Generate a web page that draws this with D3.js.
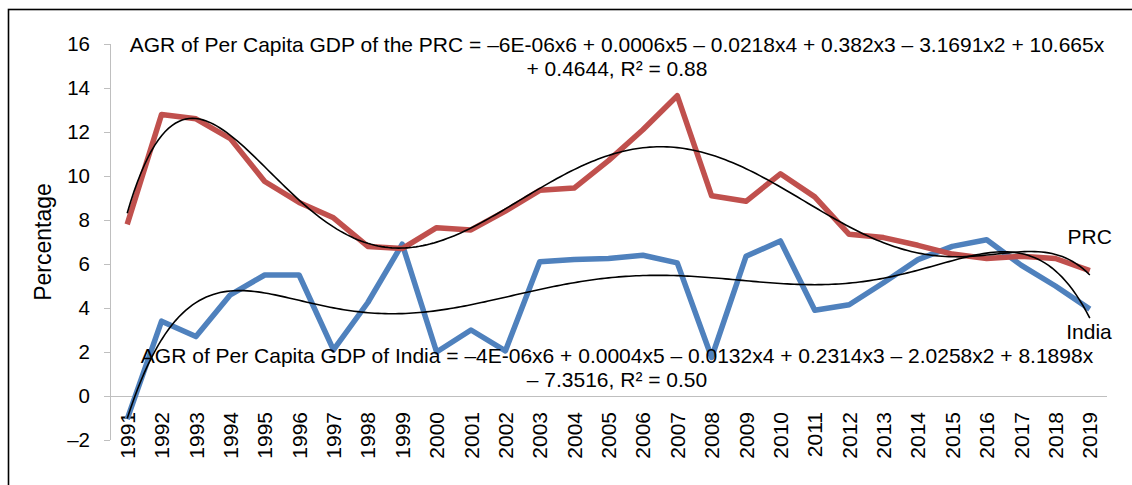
<!DOCTYPE html>
<html>
<head>
<meta charset="utf-8">
<script src="https://cdn.jsdelivr.net/npm/d3@7"></script>
<style>
  body { margin: 0; background: #fff; }
  svg { display: block; font-family: Arial, "Liberation Sans", sans-serif; }
</style>
</head>
<body>
<div id="chart"></div>
<script>
const years = d3.range(1991, 2020).map(String);
const prc = [7.8, 12.8, 12.6, 11.7, 9.75, 8.8, 8.1, 6.8, 6.7, 7.65, 7.55, 8.4, 9.35, 9.45,
             10.7, 12.1, 13.65, 9.1, 8.85, 10.1, 9.05, 7.35, 7.2, 6.85, 6.45, 6.25, 6.35, 6.25, 5.7];
const india = [-1.05, 3.4, 2.7, 4.6, 5.5, 5.5, 2.1, 4.25, 6.9, 2.0, 3.0, 2.05, 6.1, 6.2,
               6.25, 6.4, 6.05, 1.75, 6.35, 7.05, 3.9, 4.15, 5.15, 6.2, 6.8, 7.1, 5.95, 5.0, 3.95];
const yTicks = [-2, 0, 2, 4, 6, 8, 10, 12, 14, 16];
const prcEq = ['AGR of Per Capita GDP of the PRC = \u20136E-06x6 + 0.0006x5 \u2013 0.0218x4 + 0.382x3 \u2013 3.1691x2 + 10.665x',
               '+ 0.4644, R\u00b2 = 0.88'];
const indiaEq = ['AGR of Per Capita GDP of India = \u20134E-06x6 + 0.0004x5 \u2013 0.0132x4 + 0.2314x3 \u2013 2.0258x2 + 8.1898x',
                 '\u2013 7.3516, R\u00b2 = 0.50'];

// least squares polynomial, x = 1..n like Excel, scaled for stability
function polyFit(vals, deg) {
  const n = vals.length, c = (n + 1) / 2, s = (n - 1) / 2;
  const m = deg + 1;
  const A = d3.range(m).map(() => new Array(m + 1).fill(0));
  vals.forEach((v, i) => {
    const t = (i + 1 - c) / s;
    const p = d3.range(m).map(k => Math.pow(t, k));
    for (let r = 0; r < m; r++) {
      for (let q = 0; q < m; q++) A[r][q] += p[r] * p[q];
      A[r][m] += p[r] * v;
    }
  });
  for (let col = 0; col < m; col++) {
    let piv = col;
    for (let r = col + 1; r < m; r++) if (Math.abs(A[r][col]) > Math.abs(A[piv][col])) piv = r;
    [A[col], A[piv]] = [A[piv], A[col]];
    for (let r = 0; r < m; r++) {
      if (r === col) continue;
      const f = A[r][col] / A[col][col];
      for (let q = col; q <= m; q++) A[r][q] -= f * A[col][q];
    }
  }
  const coef = A.map((row, i) => row[m] / row[i]);
  return x => { const t = (x - c) / s; return coef.reduce((acc, a, k) => acc + a * Math.pow(t, k), 0); };
}

const W = 1132, H = 485;
const svg = d3.select('#chart').append('svg').attr('width', W).attr('height', H);

const x = d3.scalePoint().domain(years).range([110, 1107]).padding(0.5);
const y = d3.scaleLinear().domain([-2, 16]).range([440, 44]);
const xi = d3.scaleLinear().domain([1, years.length]).range([x(years[0]), x(years[years.length - 1])]);

// outer frame (cut off at right and bottom)
svg.append('rect').attr('x', 8.5).attr('y', 9.5).attr('width', 1200).attr('height', 600)
   .attr('fill', 'none').attr('stroke', '#000').attr('stroke-width', 1.6);

// y axis
const gy = svg.append('g');
gy.append('line').attr('x1', 110.5).attr('x2', 110.5).attr('y1', y(16)).attr('y2', y(-2))
  .attr('stroke', '#bfbfbf');
yTicks.forEach(t => {
  gy.append('line').attr('x1', 104).attr('x2', 110).attr('y1', Math.round(y(t)) + 0.5).attr('y2', Math.round(y(t)) + 0.5)
    .attr('stroke', '#bfbfbf');
  gy.append('text').attr('x', 90).attr('y', y(t)).attr('dy', '0.36em').attr('text-anchor', 'end')
    .attr('font-size', 20.5).text(t < 0 ? '\u2013' + Math.abs(t) : t);
});
svg.append('text').attr('transform', `translate(51,${(y(16) + y(-2)) / 2}) rotate(-90)`)
   .attr('text-anchor', 'middle').attr('font-size', 23).text('Percentage');

// zero line
svg.append('line').attr('x1', 110).attr('x2', 1107).attr('y1', Math.round(y(0)) + 0.5).attr('y2', Math.round(y(0)) + 0.5)
   .attr('stroke', '#bfbfbf');

// x labels
years.forEach(yr => {
  svg.append('text').attr('transform', `translate(${x(yr)},412) rotate(-90)`)
     .attr('text-anchor', 'end').attr('dy', '0.36em').attr('font-size', 21).text(yr);
});

// series
const line = d3.line().x((d, i) => x(years[i])).y(d => y(d));
svg.append('path').datum(india).attr('d', line).attr('fill', 'none')
   .attr('stroke', '#4f81bd').attr('stroke-width', 5.5).attr('stroke-linejoin', 'round');
svg.append('path').datum(prc).attr('d', line).attr('fill', 'none')
   .attr('stroke', '#c0504d').attr('stroke-width', 5.5).attr('stroke-linejoin', 'round');

// trendlines
const samples = d3.range(1, years.length + 0.001, 0.1);
[prc, india].forEach(vals => {
  const f = polyFit(vals, 6);
  svg.append('path').datum(samples)
     .attr('d', d3.line().x(d => xi(d)).y(d => y(f(d))))
     .attr('fill', 'none').attr('stroke', '#000').attr('stroke-width', 1.6);
});

// equations
function eq(lines, yBase) {
  const t = svg.append('text').attr('font-size', 21).attr('text-anchor', 'middle');
  lines.forEach((l, i) => t.append('tspan').attr('x', 617).attr('y', yBase + i * 23.5).text(l));
}
eq(prcEq, 52);
eq(indiaEq, 363);

// series labels
const last = years[years.length - 1];
svg.append('text').attr('x', x(last) + 22).attr('y', y(prc[prc.length - 1]) - 27)
   .attr('text-anchor', 'end').attr('font-size', 21).text('PRC');
svg.append('text').attr('x', x(last) + 22).attr('y', y(india[india.length - 1]) + 30)
   .attr('text-anchor', 'end').attr('font-size', 21).text('India');
</script>
</body>
</html>
